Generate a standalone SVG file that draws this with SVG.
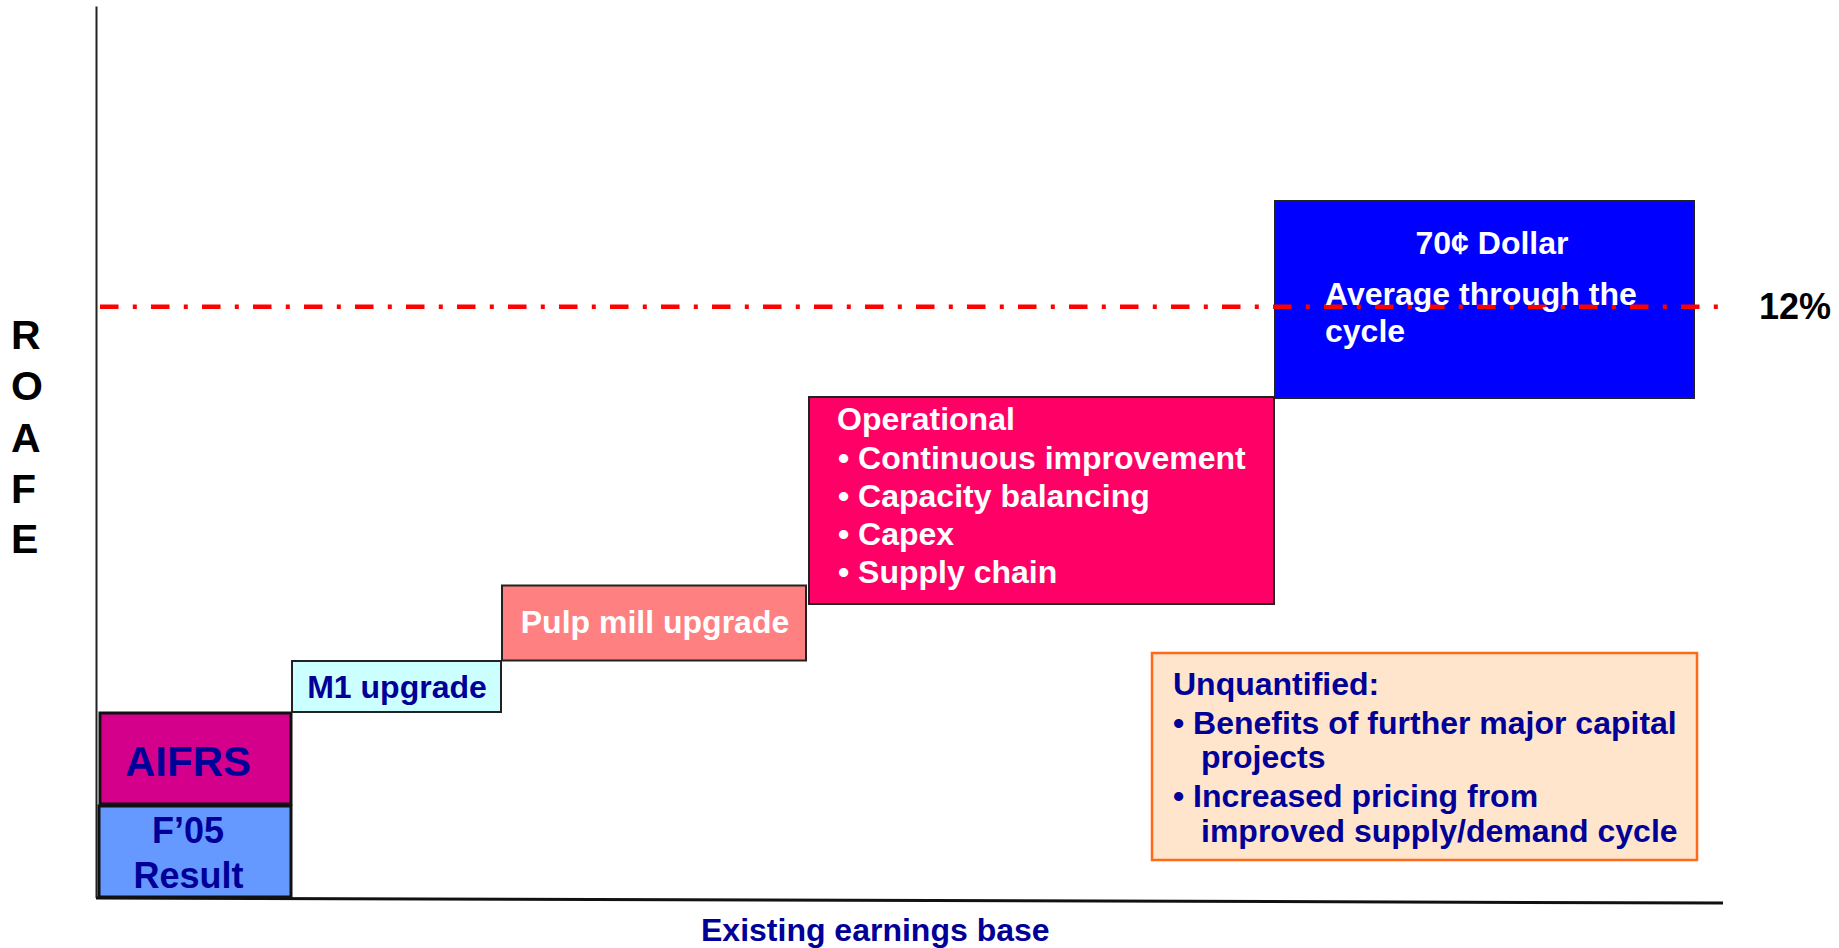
<svg xmlns="http://www.w3.org/2000/svg" width="1839" height="948" viewBox="0 0 1839 948">
<style>
text{font-family:"Liberation Sans",Arial,sans-serif;font-weight:bold}
.box{stroke:#222;stroke-width:2}
.thick{stroke:#111;stroke-width:3}
.navy{fill:#000099}
.white{fill:#FFFFFF}
.blk{fill:#000000}
.f32{font-size:32px}
.mid{text-anchor:middle}
</style>
<rect width="1839" height="948" fill="#FFFFFF"/>
<g id="axes">
<line x1="96.5" y1="6.5" x2="96.5" y2="898" stroke="#222" stroke-width="2"/>
<line x1="96" y1="898" x2="1723" y2="903" stroke="#111" stroke-width="3"/>
</g>
<g id="roafe-label" class="blk" font-size="41">
<text x="11" y="349">R</text>
<text x="11" y="400">O</text>
<text x="11" y="452">A</text>
<text x="11" y="503">F</text>
<text x="11" y="553">E</text>
</g>
<g id="f05">
<rect class="thick" x="99" y="806" width="192" height="91" fill="#6699FF"/>
<text class="navy mid" x="188" y="843" font-size="36">F’05</text>
<text class="navy mid" x="188.5" y="888" font-size="36">Result</text>
</g>
<g id="aifrs">
<rect class="thick" x="100" y="713" width="191" height="91" fill="#D4008C"/>
<text class="navy mid" x="188" y="776" font-size="42">AIFRS</text>
</g>
<g id="m1">
<rect class="box" x="292" y="661" width="209" height="51" fill="#CCFFFF"/>
<text class="navy mid f32" x="397" y="698">M1 upgrade</text>
</g>
<g id="pulp">
<rect class="box" x="502" y="585.5" width="304" height="75" fill="#FF8080"/>
<text class="white mid f32" x="655" y="633">Pulp mill upgrade</text>
</g>
<g id="operational">
<rect class="box" x="809" y="397" width="465" height="207" fill="#FF0066"/>
<text class="white f32" x="837" y="430">Operational</text>
<text class="white f32" x="838" y="469">• Continuous improvement</text>
<text class="white f32" x="838" y="507">• Capacity balancing</text>
<text class="white f32" x="838" y="545">• Capex</text>
<text class="white f32" x="838" y="583">• Supply chain</text>
</g>
<g id="dollar">
<rect class="box" x="1275" y="201" width="419" height="197" fill="#0000FF"/>
</g>
<g id="connectors">
<line x1="100" y1="306.7" x2="1731" y2="306.7" stroke="#FF0000" stroke-width="4.5" stroke-dasharray="18.5 14.3 4 14.2"/>
</g>
<g id="dollar-text">
<text class="white mid f32" x="1492" y="253.5">70¢ Dollar</text>
<text class="white f32" x="1325" y="305">Average through the</text>
<text class="white f32" x="1325" y="342">cycle</text>
</g>
<g id="target">
<text class="blk" x="1759" y="319" font-size="36">12%</text>
</g>
<g id="unquantified">
<rect x="1152" y="653" width="545" height="207" fill="#FFE5CC" stroke="#FF6A1A" stroke-width="2.5"/>
<text class="navy f32" x="1173" y="695">Unquantified:</text>
<text class="navy f32" x="1173" y="734">• Benefits of further major capital</text>
<text class="navy f32" x="1201" y="768">projects</text>
<text class="navy f32" x="1173" y="807">• Increased pricing from</text>
<text class="navy f32" x="1201" y="842">improved supply/demand cycle</text>
</g>
<g id="x-label">
<text class="navy f32" x="701" y="941">Existing earnings base</text>
</g>
</svg>
